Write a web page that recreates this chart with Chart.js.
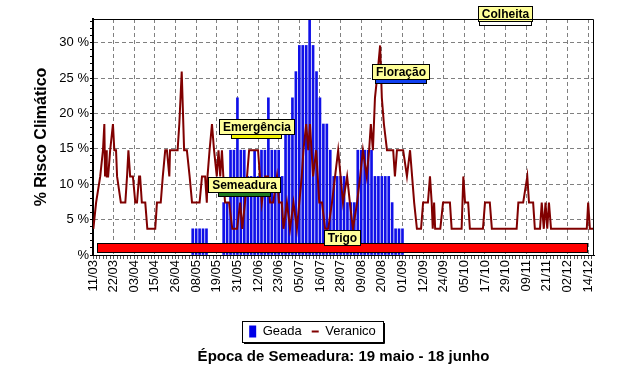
<!DOCTYPE html>
<html>
<head>
<meta charset="utf-8">
<script src="https://cdn.jsdelivr.net/npm/chart.js@4.4.0/dist/chart.umd.min.js"></script>
<style>
  html, body { margin: 0; padding: 0; background: #fff; }
</style>
</head>
<body>
<canvas id="riscoChart" width="625" height="389"></canvas>
<script>
// eixo x: um ponto a cada divisao menor, rotulo a cada 6 pontos
const xLabels = ['11/03','22/03','03/04','15/04','26/04','08/05','19/05','31/05','12/06','23/06','05/07','16/07',
                 '28/07','09/08','20/08','01/09','12/09','24/09','05/10','17/10','29/10','09/11','21/11','02/12','14/12'];

// Geada (%)
const geadaIdx = [29,30,31,32,33,38,39,40,41,42,43,44,45,46,47,48,49,50,51,52,53,54,55,56,57,58,59,60,61,62,63,64,
                  65,66,67,68,69,70,71,72,73,74,75,76,77,78,79,80,81,82,83,84,85,86,87,88,89,90];
const geadaVal = [3.7,3.7,3.7,3.7,3.7,7.4,7.4,14.8,14.8,22.2,14.8,14.8,11.1,11.1,14.8,11.1,14.8,14.8,22.2,14.8,14.8,14.8,
                  11.1,18.5,18.5,22.2,25.9,29.6,29.6,29.6,33.3,29.6,25.9,22.2,18.5,18.5,14.8,11.1,11.1,11.1,11.1,7.4,7.4,
                  7.4,14.8,14.8,14.8,14.8,14.8,11.1,11.1,11.1,11.1,11.1,7.4,3.7,3.7,3.7];

// Veranico (%)
const veranicoIdx = [0.1,0.9,2.1,2.9,3.3,3.5,3.8,4.0,4.4,5.0,5.8,6.2,6.7,7.0,8.1,9.4,9.9,10.3,10.8,11.6,12.3,12.8,13.4,13.7,
  14.2,15.2,15.8,18.1,18.6,19.7,20.3,21.0,21.5,22.2,22.4,24.6,25.1,25.8,26.5,27.3,28.1,28.8,31.0,31.7,32.6,33.1,33.3,33.9,
  34.6,35.2,36.0,36.5,37.0,37.5,37.9,38.4,39.6,40.5,41.9,42.8,43.4,44.2,45.4,48.0,49.1,50.1,50.9,51.5,52.4,53.5,54.1,54.9,
  55.4,56.4,57.3,58.3,59.3,60.7,61.2,62.0,62.6,63.1,64.0,64.9,65.8,66.6,67.5,68.4,69.5,70.4,71.3,72.7,73.9,74.7,75.6,76.8,
  77.7,78.5,79.6,80.3,80.8,81.4,82.0,82.8,83.5,84.0,84.6,85.5,87.3,87.8,88.4,90.2,91.3,92.2,92.8,93.4,94.2,95.4,96.0,97.4,
  98.0,98.5,98.8,99.2,99.5,101.0,101.8,103.8,104.3,107.2,107.7,108.2,109.1,109.6,113.4,114.0,115.4,116.0,123.2,123.7,125.1,
  126.3,126.8,128.0,128.5,130.0,130.5,131.1,131.6,132.1,132.6,133.2,143.6,144.0,144.5,145.5];
const veranicoVal = [3.7,7.4,11.1,14.8,18.5,11.1,14.8,11.1,11.1,14.8,18.5,14.8,14.8,11.1,7.4,7.4,11.1,14.8,11.1,11.1,7.4,7.4,
  11.1,11.1,7.4,7.4,3.7,3.7,7.4,7.4,11.1,14.8,14.8,11.1,14.8,14.8,18.5,25.9,14.8,14.8,11.1,7.4,7.4,11.1,11.1,7.4,11.1,14.8,
  18.5,14.8,11.1,14.8,11.1,14.8,11.1,7.4,7.4,3.7,3.7,7.4,3.7,7.4,14.8,14.8,7.4,11.1,11.1,7.4,7.4,11.1,7.4,7.4,
  3.7,7.4,3.7,7.4,3.7,11.1,14.8,18.5,14.8,18.5,11.1,14.8,7.4,7.4,3.7,3.7,7.4,11.1,14.8,7.4,11.1,7.4,3.7,7.4,
  11.1,14.8,11.1,14.8,18.5,14.8,22.2,25.9,29.6,22.2,18.5,14.8,14.8,11.1,14.8,14.8,11.1,14.8,11.1,7.4,3.7,3.7,7.4,7.4,
  11.1,7.4,3.7,7.4,3.7,3.7,7.4,7.4,3.7,3.7,11.1,7.4,7.4,3.7,3.7,7.4,7.4,3.7,3.7,7.4,7.4,
  11.1,7.4,7.4,3.7,3.7,7.4,3.7,7.4,3.7,7.4,3.7,3.7,7.4,3.7,3.7];

// fases da cultura (inicio e fim no eixo x)
const phaseNames = ['Semeadura', 'Emergência', 'Floração', 'Colheita', 'Trigo'];
const phaseStart = [36.4, 40.2, 82.0, 112.3, 1.2];
const phaseEnd   = [51.8, 55.0, 97.1, 127.7, 144.0];

const phaseStyle = [
  { color: '#1e7b1e', level: 8.9,  h: 5 },
  { color: '#f0f000', level: 17.1, h: 5 },
  { color: '#1040f0', level: 24.9, h: 5 },
  { color: '#ffffff', level: 33.0, h: 5 },
  { color: '#ff0000', level: 1.7,  h: 10 }
];

const FONT = '"Liberation Sans", Arial, sans-serif';

const phasePlugin = {
  id: 'phases',
  afterDatasetsDraw(chart) {
    const {ctx, scales: {x, y}} = chart;
    ctx.save();
    ctx.font = 'bold 12px ' + FONT;
    ctx.lineWidth = 1;
    phaseNames.forEach((name, i) => {
      const st = phaseStyle[i];
      const x1 = Math.round(x.getPixelForValue(phaseStart[i]));
      const x2 = Math.round(x.getPixelForValue(phaseEnd[i]));
      const top = Math.round(y.getPixelForValue(st.level));
      ctx.fillStyle = st.color;
      ctx.fillRect(x1, top, x2 - x1, st.h);
      ctx.strokeStyle = '#000';
      ctx.strokeRect(x1 + 0.5, top + 0.5, x2 - x1 - 1, st.h - 1);

      const bw = Math.round(ctx.measureText(name).width + 8);
      const bh = 16;
      const bx = Math.round((x1 + x2) / 2 - bw / 2);
      const by = Math.round(top + st.h / 2 - 2) - bh;
      ctx.fillStyle = '#ffff99';
      ctx.fillRect(bx, by, bw, bh);
      ctx.strokeRect(bx + 0.5, by + 0.5, bw - 1, bh - 1);
      ctx.fillStyle = '#000';
      ctx.textAlign = 'center';
      ctx.textBaseline = 'middle';
      ctx.fillText(name, bx + bw / 2, by + bh / 2 + 1);
    });
    ctx.restore();
  }
};

// moldura do grafico e da legenda
const framePlugin = {
  id: 'frames',
  afterDraw(chart) {
    const {ctx, chartArea: a} = chart;
    ctx.save();
    ctx.strokeStyle = '#000';
    ctx.lineWidth = 1;
    ctx.beginPath();
    ctx.moveTo(a.left, a.top + 0.5);
    ctx.lineTo(a.right - 0.5, a.top + 0.5);
    ctx.lineTo(a.right - 0.5, a.bottom);
    ctx.stroke();

    const hb = chart.legend.legendHitBoxes;
    if (hb && hb.length) {
      const l = Math.min(...hb.map(b => b.left)) - 7;
      const r = Math.max(...hb.map(b => b.left + b.width)) + 7;
      const t = Math.min(...hb.map(b => b.top)) - 4;
      const btm = Math.max(...hb.map(b => b.top + b.height)) + 4;
      ctx.strokeRect(Math.round(l) + 0.5, Math.round(t) + 0.5, Math.round(r - l), Math.round(btm - t));
      ctx.beginPath();
      ctx.moveTo(Math.round(r) + 1.5, Math.round(t) + 2);
      ctx.lineTo(Math.round(r) + 1.5, Math.round(btm) + 1.5);
      ctx.lineTo(Math.round(l) + 2, Math.round(btm) + 1.5);
      ctx.stroke();
    }
    ctx.restore();
  }
};

const geadaData = geadaIdx.map((v, i) => ({ x: v, y: geadaVal[i] }));
const veranicoData = veranicoIdx.map((v, i) => ({ x: v, y: veranicoVal[i] }));

new Chart(document.getElementById('riscoChart'), {
  type: 'line',
  data: {
    datasets: [{
      type: 'bar',
      label: 'Geada',
      data: geadaData,
      order: 2,
      backgroundColor: '#1010e8',
      borderWidth: 0,
      barThickness: 2,
      legendColor: '#0000e8'
    }, {
      label: 'Veranico',
      data: veranicoData,
      order: 1,
      borderColor: '#800000',
      borderWidth: 2,
      pointRadius: 0,
      tension: 0,
      fill: false,
      legendColor: '#800000'
    }]
  },
  options: {
    responsive: false,
    animation: false,
    layout: { padding: { left: 31, right: 31, top: 19, bottom: 23 } },
    scales: {
      x: {
        type: 'linear',
        min: 0,
        max: 145.7,
        offset: false,
        afterBuildTicks: (s) => {
          const t = [];
          for (let i = 0; i <= 145; i++) t.push({ value: i });
          s.ticks = t;
        },
        ticks: {
          autoSkip: false,
          maxRotation: 90,
          minRotation: 90,
          padding: 1,
          color: '#000',
          font: { family: FONT, size: 13 },
          callback: (v) => v % 6 === 0 ? xLabels[v / 6] : ''
        },
        grid: {
          color: (c) => (c.tick && c.tick.value % 6 === 0 && c.tick.value > 0) ? '#808080' : 'rgba(0,0,0,0)',
          tickColor: '#555',
          tickLength: 4,
          offset: false
        },
        border: { color: '#000', width: 1, dash: [4, 3] },
        afterFit: (s) => { s.height = 60; }
      },
      y: {
        min: 0,
        max: 100 * 9 / 27,
        afterBuildTicks: (s) => {
          const t = [];
          for (let i = 0; i <= 33; i++) t.push({ value: i });
          s.ticks = t;
        },
        ticks: {
          autoSkip: false,
          padding: 1,
          color: '#000',
          font: { family: FONT, size: 13 },
          callback: (v) => v % 5 ? '' : (v === 0 ? '%' : v + ' %')
        },
        grid: {
          color: (c) => (c.tick && c.tick.value % 5 === 0 && c.tick.value > 0) ? '#808080' : 'rgba(0,0,0,0)',
          tickColor: '#000',
          tickLength: 3
        },
        border: { color: '#000', width: 2, dash: [4, 3] },
        title: {
          display: true,
          text: '% Risco Climático',
          color: '#000',
          font: { family: FONT, size: 16, weight: 'bold' },
          padding: { top: 1, bottom: 0 }
        },
        afterFit: (s) => { s.width = 62; }
      }
    },
    plugins: {
      tooltip: { enabled: false },
      legend: {
        position: 'bottom',
        labels: {
          usePointStyle: true,
          pointStyleWidth: 7,
          boxHeight: 12,
          padding: 10,
          color: '#000',
          font: { family: FONT, size: 13 },
          generateLabels: (chart) => chart.data.datasets.map((ds, i) => ({
            text: ds.label,
            datasetIndex: i,
            fillStyle: ds.legendColor,
            strokeStyle: ds.legendColor,
            lineWidth: ds.type === 'bar' ? 0 : 2,
            pointStyle: ds.type === 'bar' ? 'rect' : 'line',
            fontColor: '#000',
            hidden: false
          }))
        }
      },
      title: {
        display: true,
        position: 'bottom',
        fullSize: false,
        text: 'Época de Semeadura: 19 maio - 18 junho',
        color: '#000',
        font: { family: FONT, size: 15, weight: 'bold' },
        padding: { top: 0, bottom: 0 }
      }
    }
  },
  plugins: [phasePlugin, framePlugin]
});
</script>
</body>
</html>
